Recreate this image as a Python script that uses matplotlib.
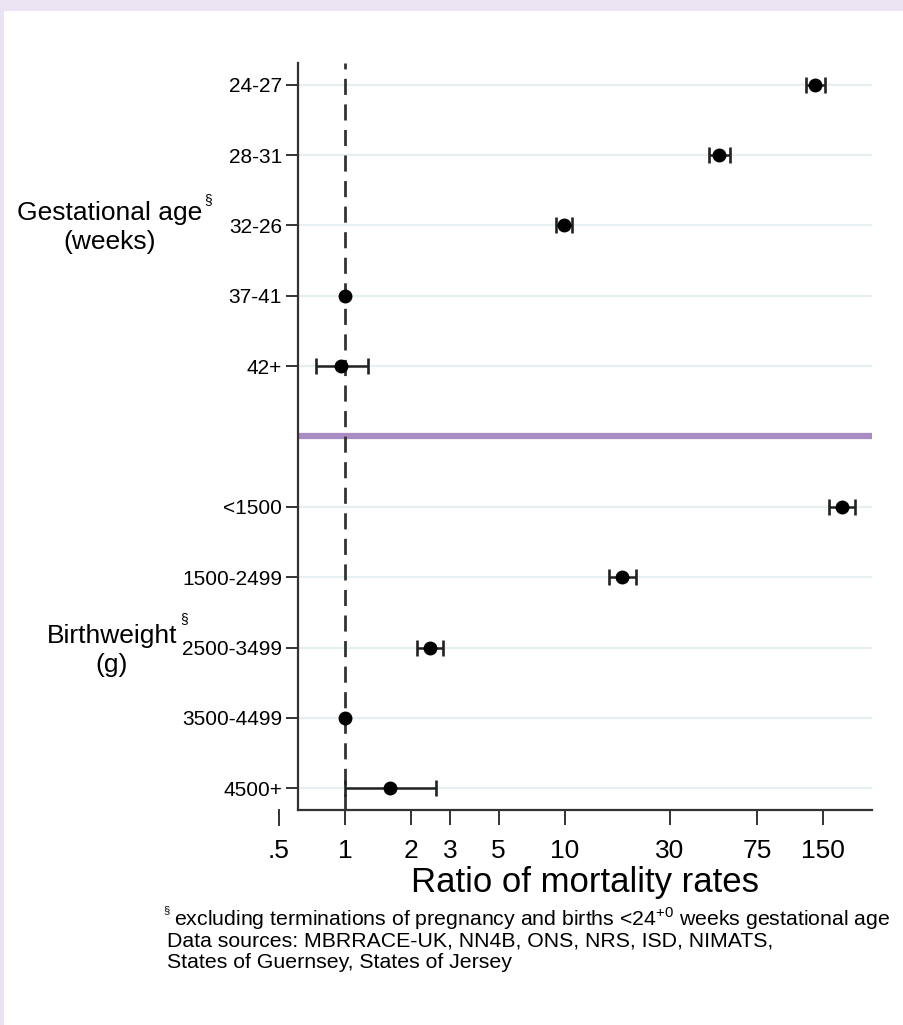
import numpy as np
import matplotlib.pyplot as plt
import matplotlib.transforms as mtransforms
from matplotlib.patches import Rectangle

plt.rcParams['font.family'] = ['Liberation Sans', 'DejaVu Sans']
plt.rcParams['mathtext.fontset'] = 'custom'
plt.rcParams['mathtext.rm'] = 'Liberation Sans'

# gestational age groups (weeks) and birthweight groups (g)
gest_labels = ['24-27', '28-31', '32-26', '37-41', '42+']
gest_ratio = [138, 50.5, 9.9, 1.0, 0.96]
gest_lo = [125, 45.5, 9.1, np.nan, 0.74]
gest_hi = [152, 56.6, 10.8, np.nan, 1.27]

bw_labels = ['<1500', '1500-2499', '2500-3499', '3500-4499', '4500+']
bw_ratio = [182, 18.2, 2.44, 1.0, 1.6]
bw_lo = [159, 15.9, 2.13, np.nan, 1.0]
bw_hi = [209, 21.1, 2.8, np.nan, 2.6]

xticks = [1, 2, 3, 5, 10, 30, 75, 150]
xtick_labels = ['1', '2', '3', '5', '10', '30', '75', '150']

dark = '#333333'
purple = '#A88CC3'
lavender = '#EBE3F1'

W, H = 904, 1025
fig = plt.figure(figsize=(W / 100, H / 100), dpi=100)
fig.patch.set_facecolor(lavender)
fig.patches.append(Rectangle((4 / W, 0), 1, 1 - 11 / H, transform=fig.transFigure,
                             facecolor='white', edgecolor='none', zorder=-5))

ax = fig.add_axes([298 / W, 1 - 810 / H, (872 - 298) / W, (810 - 63) / H])
ax.set_facecolor('none')

# one row per category, with an empty row between the two groups
n1 = len(gest_labels)
rows = np.r_[np.arange(n1), np.arange(len(bw_labels)) + n1 + 1]
labels = gest_labels + bw_labels
ratio = np.array(gest_ratio + bw_ratio)
lo = np.array(gest_lo + bw_lo)
hi = np.array(gest_hi + bw_hi)

ax.set_xscale('log')
ax.set_xlim(0.61, 250)
ax.set_ylim(rows[-1] + 0.31, -0.31)

ax.set_yticks(rows)
ax.set_yticklabels(labels)
ax.set_xticks(xticks)
ax.set_xticklabels(xtick_labels)
ax.xaxis.set_minor_locator(plt.NullLocator())
ax.grid(axis='y', color='#E6F0F2', lw=1.6, zorder=0)

ax.axhline(n1, color=purple, lw=4.5, zorder=1)
ax.axvline(1, color=dark, lw=2.0, dashes=(5.8, 3.4), zorder=2)

has_ci = ~np.isnan(lo)
ax.errorbar(ratio[has_ci], rows[has_ci],
            xerr=[ratio[has_ci] - lo[has_ci], hi[has_ci] - ratio[has_ci]],
            fmt='none', ecolor='#222222', elinewidth=1.8, capsize=6, capthick=1.9,
            zorder=3)
ax.plot(ratio, rows, 'o', color='black', ms=9, zorder=4)

for s in ['top', 'right']:
    ax.spines[s].set_visible(False)
for s in ['left', 'bottom']:
    ax.spines[s].set_color(dark)
    ax.spines[s].set_linewidth(1.6)
ax.tick_params(axis='y', length=8.5, width=1.4, color=dark, labelsize=15, pad=3)
ax.tick_params(axis='x', length=11, width=1.4, color=dark, labelsize=19, pad=10)

# .5 tick sits left of the axis start
tr = mtransforms.blended_transform_factory(ax.transData, ax.transAxes)
ax_h = 810 - 63
ax.plot([0.5, 0.5], [0, -15 / ax_h], color=dark, lw=1.4, transform=tr, clip_on=False)
ax.text(0.5, -29 / ax_h, '.5', transform=tr, ha='center', va='top', fontsize=19)

ax.set_xlabel('Ratio of mortality rates', fontsize=25, labelpad=2)


def fx(px):
    return px / W


def fy(py):
    return 1 - py / H


fig.text(fx(110), fy(213), 'Gestational age', fontsize=19, ha='center', va='center')
fig.text(fx(110), fy(242), '(weeks)', fontsize=19, ha='center', va='center')
fig.text(fx(204), fy(200), '§', fontsize=10, ha='left', va='center')
fig.text(fx(112), fy(636), 'Birthweight', fontsize=19, ha='center', va='center')
fig.text(fx(112), fy(665), '(g)', fontsize=19, ha='center', va='center')
fig.text(fx(180), fy(619), '§', fontsize=10, ha='left', va='center')

fig.text(fx(163), fy(910), '§', fontsize=8, ha='left', va='center')
fig.text(fx(174), fy(919), r'excluding terminations of pregnancy and births <24$^{+0}$ weeks gestational age',
         fontsize=15.3, ha='left', va='center')
fig.text(fx(167), fy(941), 'Data sources: MBRRACE-UK, NN4B, ONS, NRS, ISD, NIMATS,',
         fontsize=15.3, ha='left', va='center')
fig.text(fx(167), fy(962), 'States of Guernsey, States of Jersey',
         fontsize=15.3, ha='left', va='center')

fig.savefig('out.png', dpi=100, facecolor=fig.get_facecolor())
